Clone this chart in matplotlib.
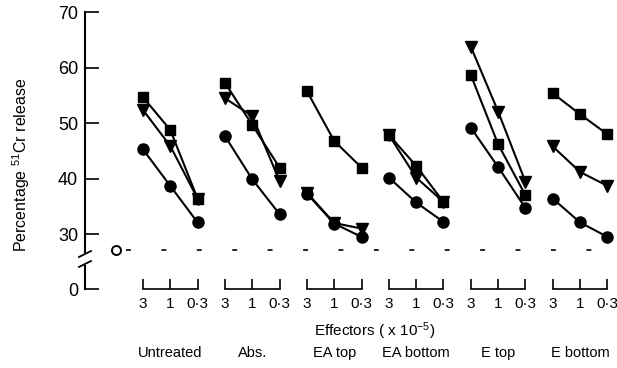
import matplotlib.pyplot as plt
import matplotlib.transforms as mtransforms

plt.rcParams['font.family'] = ['Liberation Sans', 'DejaVu Sans']
plt.rcParams['mathtext.fontset'] = 'custom'
plt.rcParams['mathtext.rm'] = 'Liberation Sans'
plt.rcParams['mathtext.it'] = 'Liberation Sans:italic'
plt.rcParams['lines.scale_dashes'] = False

# DATA
groups = ["Untreated", "Abs.", "EA top", "EA bottom", "E top", "E bottom"]
doses = ["3", "1", "0·3"]

squares = [[54.7, 48.8, 36.4],
           [57.3, 49.7, 42.0],
           [55.8, 46.8, 42.0],
           [47.9, 42.3, 35.8],
           [58.7, 46.2, 37.0],
           [55.4, 51.6, 48.0]]
triangles = [[52.4, 45.9, 36.4],
             [54.5, 51.3, 39.6],
             [37.5, 32.0, 31.0],
             [47.9, 40.2, 35.8],
             [63.8, 52.1, 39.4],
             [45.8, 41.2, 38.7]]
circles = [[45.3, 38.7, 32.1],
           [47.7, 39.9, 33.6],
           [37.3, 31.9, 29.5],
           [40.2, 35.7, 32.2],
           [49.2, 42.1, 34.7],
           [36.4, 32.1, 29.5]]
spont_release = 27.1

ytick_vals = [30, 40, 50, 60, 70]
zero_pos = 20.1   # where "0" sits below the axis break

fig = plt.figure(figsize=(6.17, 3.68), dpi=100)
ax = fig.add_axes([85/617, 1-289/368, 532/617, 276.7/368])

lw = 1.5
for g in range(len(groups)):
    xs = [3*g + i for i in range(len(doses))]
    ax.plot(xs, squares[g], color='k', lw=lw, marker='s', ms=7.5, zorder=3)
    ax.plot(xs, circles[g], color='k', lw=lw, marker='o', ms=8, zorder=3)
    ax.plot(xs, triangles[g], color='k', lw=lw, marker='v', ms=9, zorder=4)

# spontaneous release
ax.plot([-1], [spont_release], marker='o', ms=6.5, mfc='white', mec='k', mew=1.4, ls='none')
ax.axhline(spont_release, xmin=0.077, xmax=1, color='k', lw=1.2, dashes=(3.5, 22))

ax.set_xlim(-2.12, 17.35)
ax.set_ylim(zero_pos, 70)

# y axis with break
ax.spines['top'].set_visible(False)
ax.spines['right'].set_visible(False)
ax.spines['bottom'].set_visible(False)
ax.spines['left'].set_visible(False)
ax.set_yticks([zero_pos] + ytick_vals)
ax.set_yticklabels(['0'] + [str(v) for v in ytick_vals])
ax.tick_params(axis='y', direction='in', length=10, width=1.2, labelsize=13, pad=5)

tr = ax.transAxes
ax.plot([0, 0], [0, 23/276.7], color='k', lw=1.5, transform=tr, clip_on=False)
ax.plot([0, 0], [37/276.7, 1], color='k', lw=1.5, transform=tr, clip_on=False)
for cy in [35/276.7, 25/276.7]:
    ax.plot([-6/532, 6/532], [cy - 3/276.7, cy + 3/276.7], color='k', lw=1.3,
            transform=tr, clip_on=False)

# x axis: one bracket per group
xticks = [3*g + i for g in range(len(groups)) for i in range(len(doses))]
ax.set_xticks(xticks)
ax.set_xticklabels(doses * len(groups))
ax.tick_params(axis='x', direction='in', length=7.5, width=1.2, labelsize=11, pad=6)
blend = mtransforms.blended_transform_factory(ax.transData, ax.transAxes)
for g in range(len(groups)):
    ax.plot([3*g, 3*g + 2], [0, 0], color='k', lw=1.2, transform=blend, clip_on=False)

namet = mtransforms.blended_transform_factory(ax.transData, fig.transFigure)
for g, name in enumerate(groups):
    ax.text(3*g + 1, 1 - 353/368, name, transform=namet, ha='center', va='center', fontsize=10.5)
ax.text(8.5, 1 - 331/368, "Effectors ( x 10$^{-5}$)", transform=namet,
        ha='center', va='center', fontsize=11)

fig.text(21/617, 1 - 165/368, "Percentage $^{51}$Cr release", rotation=90,
         ha='center', va='center', fontsize=11.5)

fig.savefig('out.png', dpi=100)
